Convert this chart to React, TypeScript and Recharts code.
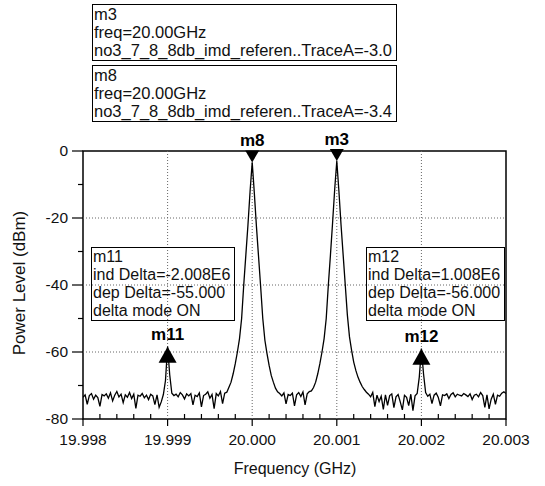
import React from "react";
import { LineChart, Line, XAxis, YAxis, ReferenceLine, ReferenceArea, ReferenceDot } from "recharts";

const FONT = '"Liberation Sans", Arial, sans-serif';

// sweep: 19.998 GHz .. 20.003 GHz, one reading every 25 kHz
const FREQ_START = 19.998;
const FREQ_STEP = 0.000025;
const powerDbm = [
  -73.5, -72.8, -75.6, -73.0, -72.4, -74.1, -72.9, -73.6, -76.2, -72.7,
  -73.1, -72.5, -73.8, -72.2, -74.6, -72.9, -71.8, -73.4, -72.6, -75.1,
  -72.8, -73.5, -72.1, -73.9, -72.6, -76.8, -72.9, -73.2, -72.4, -73.7,
  -72.9, -74.2, -72.6, -73.1, -75.7, -72.8, -76.5, -74.9, -72.7, -68.5,
  -58.4, -66.8, -72.3, -73.0, -72.6, -73.4, -72.1, -72.8, -74.0, -72.5,
  -73.1, -72.4, -75.8, -72.9, -73.3, -72.2, -76.4, -73.0, -72.6, -71.9,
  -73.8, -72.7, -76.9, -72.4, -73.1, -71.8, -75.4, -72.3, -72.0, -70.5,
  -69.0, -66.5, -63.5, -60.0, -56.0, -50.0, -40.0, -31.0, -22.0, -12.0,
  -3.4, -12.5, -22.5, -31.5, -40.5, -50.0, -56.5, -60.5, -64.0, -67.0,
  -69.0, -70.8, -71.9, -72.4, -73.1, -72.2, -75.5, -72.7, -73.0, -72.3,
  -76.1, -72.8, -72.1, -73.3, -71.9, -75.8, -72.5, -71.8, -71.6, -70.6,
  -69.0, -66.5, -63.5, -60.0, -56.0, -50.0, -40.0, -31.0, -21.5, -11.5,
  -3.0, -12.0, -22.0, -31.0, -40.0, -49.0, -55.5, -59.5, -63.0, -65.5,
  -67.5, -69.0, -70.3, -71.2, -72.0, -72.6, -73.4, -72.1, -76.3, -72.9,
  -74.8, -73.2, -77.1, -72.8, -75.9, -73.0, -72.5, -76.6, -73.4, -72.7,
  -74.9, -77.3, -72.9, -73.5, -76.0, -72.6, -77.5, -73.1, -72.4, -67.5,
  -59.0, -66.5, -72.1, -73.2, -72.6, -75.4, -72.9, -72.3, -73.6, -76.1,
  -72.8, -73.0, -72.5, -73.9, -72.7, -72.2, -73.4, -72.6, -72.9, -73.1,
  -72.4, -72.8, -73.3, -72.5, -74.2, -72.9, -72.6, -73.4, -72.1, -73.0,
  -76.5, -72.8, -77.0, -74.1, -72.6, -75.6, -72.9, -73.2, -72.3, -71.9,
  -72.4,
];

const majorFreqTicks = [19.998, 19.999, 20.0, 20.001, 20.002, 20.003];
const minorFreqTicks = [
  19.9982, 19.9984, 19.9986, 19.9988, 19.9992, 19.9994, 19.9996, 19.9998,
  20.0002, 20.0004, 20.0006, 20.0008, 20.0012, 20.0014, 20.0016, 20.0018,
  20.0022, 20.0024, 20.0026, 20.0028,
];
const powerTicks = [-80, -70, -60, -50, -40, -30, -20, -10, 0];
const gridFreqs = [19.999, 20.0, 20.001, 20.002];
const gridPowers = [-20, -40, -60];

const markerNames = ["m8", "m3", "m11", "m12"];
const markerFreqs = [20.0, 20.001, 19.999, 20.002];
const markerPowers = [-3.4, -3.0, -58.4, -59.0];
const markerPointsDown = [true, true, false, false];

const readouts = [
  { lines: ["m3", "freq=20.00GHz", "no3_7_8_8db_imd_referen..TraceA=-3.0"], left: 92, top: 4, width: 305, height: 57, size: 16.5 },
  { lines: ["m8", "freq=20.00GHz", "no3_7_8_8db_imd_referen..TraceA=-3.4"], left: 92, top: 65, width: 305, height: 57, size: 16.5 },
  { lines: ["m11", "ind Delta=-2.008E6", "dep Delta=-55.000", "delta mode ON"], left: 91, top: 247, width: 144, height: 74, size: 16 },
  { lines: ["m12", "ind Delta=1.008E6", "dep Delta=-56.000", "delta mode ON"], left: 366, top: 247, width: 139, height: 74, size: 16 },
];

const data = powerDbm.map((p, i) => ({ freq: FREQ_START + i * FREQ_STEP, power: p }));
const freqTicks = [...majorFreqTicks, ...minorFreqTicks].sort((a, b) => a - b);

const FreqTick = (props: any) => {
  const { x, y, payload } = props;
  const v = payload.value as number;
  const major = majorFreqTicks.some((t) => Math.abs(t - v) < 1e-7);
  if (!major) return <line x1={x} x2={x} y1={y} y2={y - 5} stroke="#000" strokeWidth={1.2} />;
  return (
    <g>
      <line x1={x} x2={x} y1={y} y2={y + 7} stroke="#000" strokeWidth={1.2} />
      <text x={x} y={y + 26} textAnchor="middle" fontSize={15.5} fontFamily={FONT} fill="#111">
        {v.toFixed(3)}
      </text>
    </g>
  );
};

const PowerTick = (props: any) => {
  const { x, y, payload } = props;
  const v = payload.value as number;
  const major = v % 20 === 0;
  return (
    <g>
      <line x1={x - (major ? 11 : 5)} x2={x} y1={y} y2={y} stroke="#000" strokeWidth={1.2} />
      {major && (
        <text x={x - 15} y={y + 5} textAnchor="end" fontSize={15.5} fontFamily={FONT} fill="#111">
          {v}
        </text>
      )}
    </g>
  );
};

const markerShape = (name: string, down: boolean) => (props: any) => {
  const { cx, cy } = props;
  if (down) {
    return (
      <g>
        <polygon points={`${cx},${cy} ${cx - 7},${cy - 12} ${cx + 7},${cy - 12}`} fill="#000" />
        <text x={cx} y={cy - 16} textAnchor="middle" fontSize={17} fontWeight="bold" fontFamily={FONT} fill="#000">
          {name}
        </text>
      </g>
    );
  }
  return (
    <g>
      <polygon points={`${cx},${cy} ${cx - 9},${cy + 16} ${cx + 9},${cy + 16}`} fill="#000" />
      <text x={cx} y={cy - 7} textAnchor="middle" fontSize={17} fontWeight="bold" fontFamily={FONT} fill="#000">
        {name}
      </text>
    </g>
  );
};

export default function App() {
  return (
    <div style={{ position: "absolute", left: 0, top: 0, width: 545, height: 486, background: "#fff", fontFamily: FONT }}>
      <LineChart width={545} height={486} data={data} margin={{ top: 151, right: 39, bottom: 0, left: 0 }}>
        <XAxis
          dataKey="freq"
          type="number"
          domain={[19.998, 20.003]}
          allowDataOverflow
          ticks={freqTicks}
          interval={0}
          height={67}
          axisLine={false}
          tickLine={false}
          tickSize={0}
          tickMargin={0}
          tick={<FreqTick />}
        />
        <YAxis
          type="number"
          domain={[-80, 0]}
          allowDataOverflow
          ticks={powerTicks}
          interval={0}
          width={83}
          axisLine={false}
          tickLine={false}
          tickSize={0}
          tickMargin={0}
          tick={<PowerTick />}
        />
        {gridFreqs.map((f) => (
          <ReferenceLine key={"gx" + f} x={f} stroke="#666" strokeDasharray="1 2" />
        ))}
        {gridPowers.map((p) => (
          <ReferenceLine key={"gy" + p} y={p} stroke="#666" strokeDasharray="1 2" />
        ))}
        <ReferenceArea x1={19.998} x2={20.003} y1={-80} y2={0} fill="none" stroke="#000" strokeWidth={1.5} />
        <Line dataKey="power" type="linear" stroke="#000" strokeWidth={1.3} dot={false} isAnimationActive={false} />
        {markerNames.map((n, i) => (
          <ReferenceDot
            key={n}
            x={markerFreqs[i]}
            y={markerPowers[i]}
            r={0}
            shape={markerShape(n, markerPointsDown[i])}
          />
        ))}
      </LineChart>
      {readouts.map((b) => (
        <div
          key={b.lines[0]}
          style={{
            position: "absolute",
            left: b.left,
            top: b.top,
            width: b.width,
            height: b.height,
            border: "1.5px solid #000",
            boxSizing: "border-box",
            overflow: "hidden",
            whiteSpace: "nowrap",
            fontSize: b.size,
            lineHeight: "18px",
            paddingLeft: 1,
            color: "#111",
          }}
        >
          {b.lines.map((l) => (
            <div key={l}>{l}</div>
          ))}
        </div>
      ))}
      <div style={{ position: "absolute", left: 0, top: 460, width: 590, textAlign: "center", fontSize: 16, color: "#111" }}>
        Frequency (GHz)
      </div>
      <div
        style={{
          position: "absolute",
          left: 20,
          top: 283,
          transform: "translate(-50%, -50%) rotate(-90deg)",
          whiteSpace: "nowrap",
          fontSize: 17,
          color: "#111",
        }}
      >
        Power Level (dBm)
      </div>
    </div>
  );
}
